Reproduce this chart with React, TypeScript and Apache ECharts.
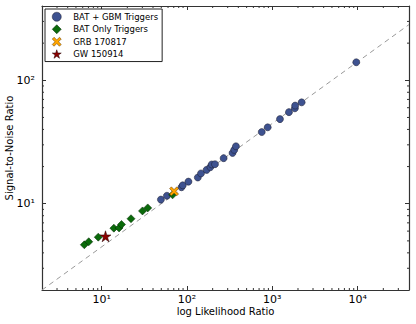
import React, { useEffect, useRef } from "react";
import * as echarts from "echarts";

// BAT + GBM triggers: [log likelihood ratio, S/N]
const batGbmLLR = [49.5, 58.2, 86.3, 89.3, 104, 134, 146, 170, 188, 195, 213, 269, 342, 358, 375, 752, 883, 1230, 1567, 1840, 1853, 2208, 9640];
const batGbmSNR = [10.8, 11.6, 13.6, 14.1, 15.1, 16.3, 17.6, 18.8, 19.8, 20.8, 20.9, 23.4, 25.8, 27.3, 29.2, 38.1, 41.6, 48.5, 55.2, 59.3, 62.4, 66.3, 140];
// BAT only triggers
const batOnlyLLR = [6.27, 7.06, 9.13, 13.9, 16.0, 17.1, 22.1, 30.1, 34.7, 67.8];
const batOnlySNR = [4.65, 4.92, 5.36, 6.34, 6.37, 6.79, 7.56, 8.74, 9.25, 11.8];
// GRB 170817
const grbLLR = [70.6];
const grbSNR = [12.6];
// GW 150914
const gwLLR = [11.1];
const gwSNR = [5.45];
// reference dashed line
const refLLR = [2, 40000];
const refSNR = [2, 282.8];

const xMinorTicks = [3, 4, 5, 6, 7, 8, 9, 20, 30, 40, 50, 60, 70, 80, 90, 200, 300, 400, 500, 600, 700, 800, 900, 2000, 3000, 4000, 5000, 6000, 7000, 8000, 9000, 20000, 30000];
const yMinorTicks = [3, 4, 5, 6, 7, 8, 9, 20, 30, 40, 50, 60, 70, 80, 90, 200, 300];

const seriesNames = ["BAT + GBM Triggers", "BAT Only Triggers", "GRB 170817", "GW 150914"];

const STAR = "path://M50,0 L61.2,34.5 L97.6,34.5 L68.2,55.9 L79.4,90.5 L50,69.1 L20.6,90.5 L31.8,55.9 L2.4,34.5 L38.8,34.5 Z";
const XMARK = "path://M20,0 L50,30 L80,0 L100,20 L70,50 L100,80 L80,100 L50,70 L20,100 L0,80 L30,50 L0,20 Z";

const SUP: Record<string, string> = { "0": "⁰", "1": "¹", "2": "²", "3": "³", "4": "⁴", "5": "⁵", "-": "⁻" };
const powLabel = (v: number) => {
  const l = Math.log10(v);
  const e = Math.round(l);
  if (Math.abs(l - e) > 1e-6) return "";
  return "10" + String(e).split("").map((c) => SUP[c] || c).join("");
};

const zip = (a: number[], b: number[]) => a.map((v, i) => [v, b[i]]);

const FONT = "DejaVu Sans";

export default function App() {
  const ref = useRef<HTMLDivElement>(null);
  useEffect(() => {
    if (!ref.current) return;
    const chart = echarts.init(ref.current, undefined, { renderer: "svg" });
    const axisCommon = {
      type: "log" as const,
      logBase: 10,
      axisLine: { show: true, lineStyle: { color: "#333", width: 1.2 } },
      axisTick: { show: true, inside: true, length: 4, lineStyle: { color: "#333", width: 1 } },
      splitLine: { show: false },
      minorTick: { show: false },
    };
    const minorTickSeries = (vals: number[], isX: boolean) => ({
      type: "custom" as const,
      silent: true,
      z: 1,
      data: vals.map((v) => (isX ? [v, 10] : [10, v])),
      renderItem: (params: any, api: any) => {
        const cs = params.coordSys;
        const p = api.coord([api.value(0), api.value(1)]);
        const style = { stroke: "#333", lineWidth: 1 };
        if (isX) {
          const x = p[0];
          return {
            type: "group",
            children: [
              { type: "line", shape: { x1: x, y1: cs.y + cs.height, x2: x, y2: cs.y + cs.height - 2 }, style },
              { type: "line", shape: { x1: x, y1: cs.y, x2: x, y2: cs.y + 2 }, style },
            ],
          };
        }
        const y = p[1];
        return {
          type: "group",
          children: [
            { type: "line", shape: { x1: cs.x, y1: y, x2: cs.x + 2, y2: y }, style },
            { type: "line", shape: { x1: cs.x + cs.width, y1: y, x2: cs.x + cs.width - 2, y2: y }, style },
          ],
        };
      },
    });
    chart.setOption({
      animation: false,
      backgroundColor: "#fff",
      textStyle: { fontFamily: FONT },
      grid: { left: 42, right: 7, top: 6, bottom: 34, containLabel: false, outerBoundsMode: "none" },
      legend: {
        orient: "vertical",
        left: 45,
        top: 9,
        padding: [3, 4, 3, 7],
        itemGap: 3,
        itemWidth: 9,
        itemHeight: 9,
        borderColor: "#222",
        borderWidth: 1,
        borderRadius: 0,
        backgroundColor: "#fff",
        textStyle: { fontFamily: FONT, fontSize: 8.5, color: "#000", padding: [0, 0, 0, 7] },
        itemStyle: { borderWidth: 0.5 },
        data: [
          { name: seriesNames[0], icon: "circle" },
          { name: seriesNames[1], icon: "diamond" },
          { name: seriesNames[2], icon: XMARK },
          { name: seriesNames[3], icon: STAR },
        ],
      },
      xAxis: [
        {
          ...axisCommon,
          position: "bottom",
          min: 2,
          max: 40000,
          name: "log Likelihood Ratio",
          nameLocation: "middle",
          nameMoveOverlap: false,
          nameGap: 16,
          nameTextStyle: { fontFamily: FONT, fontSize: 10, color: "#000" },
          axisLabel: { fontFamily: FONT, fontSize: 11, color: "#000", margin: 4, formatter: powLabel },
        },
        {
          ...axisCommon,
          position: "top",
          min: 2,
          max: 40000,
          axisLabel: { show: false },
        },
      ],
      yAxis: [
        {
          ...axisCommon,
          position: "left",
          min: 2,
          max: 400,
          name: "Signal-to-Noise Ratio",
          nameLocation: "middle",
          nameMoveOverlap: false,
          nameGap: 27.5,
          nameTextStyle: { fontFamily: FONT, fontSize: 10, color: "#000" },
          axisLabel: { fontFamily: FONT, fontSize: 11, color: "#000", margin: 7, formatter: powLabel },
        },
        {
          ...axisCommon,
          position: "right",
          min: 2,
          max: 400,
          axisLabel: { show: false },
        },
      ],
      series: [
        {
          type: "line",
          name: "ref",
          data: zip(refLLR, refSNR),
          symbol: "none",
          silent: true,
          z: 1,
          lineStyle: { color: "#999", width: 1, type: [5, 4] },
        },
        minorTickSeries(xMinorTicks, true),
        minorTickSeries(yMinorTicks, false),
        {
          type: "scatter",
          name: seriesNames[0],
          data: zip(batGbmLLR, batGbmSNR),
          symbol: "circle",
          symbolSize: 7,
          z: 3,
          itemStyle: { color: "#3e5290", borderColor: "#1a1a2a", borderWidth: 0.5, opacity: 1 },
        },
        {
          type: "scatter",
          name: seriesNames[1],
          data: zip(batOnlyLLR, batOnlySNR),
          symbol: "diamond",
          symbolSize: 8,
          z: 4,
          itemStyle: { color: "#0a6a0a", borderColor: "#002200", borderWidth: 0.5, opacity: 1 },
        },
        {
          type: "scatter",
          name: seriesNames[2],
          data: zip(grbLLR, grbSNR),
          symbol: XMARK,
          symbolSize: 9,
          z: 5,
          itemStyle: { color: "#ffa500", borderColor: "#553300", borderWidth: 0.5, opacity: 1 },
        },
        {
          type: "scatter",
          name: seriesNames[3],
          data: zip(gwLLR, gwSNR),
          symbol: STAR,
          symbolSize: 11,
          z: 6,
          itemStyle: { color: "#8b0000", borderColor: "#220000", borderWidth: 0.5, opacity: 1 },
        },
      ],
    });
    return () => chart.dispose();
  }, []);
  return <div ref={ref} style={{ position: "fixed", left: 0, top: 0, width: 416, height: 324 }} />;
}
